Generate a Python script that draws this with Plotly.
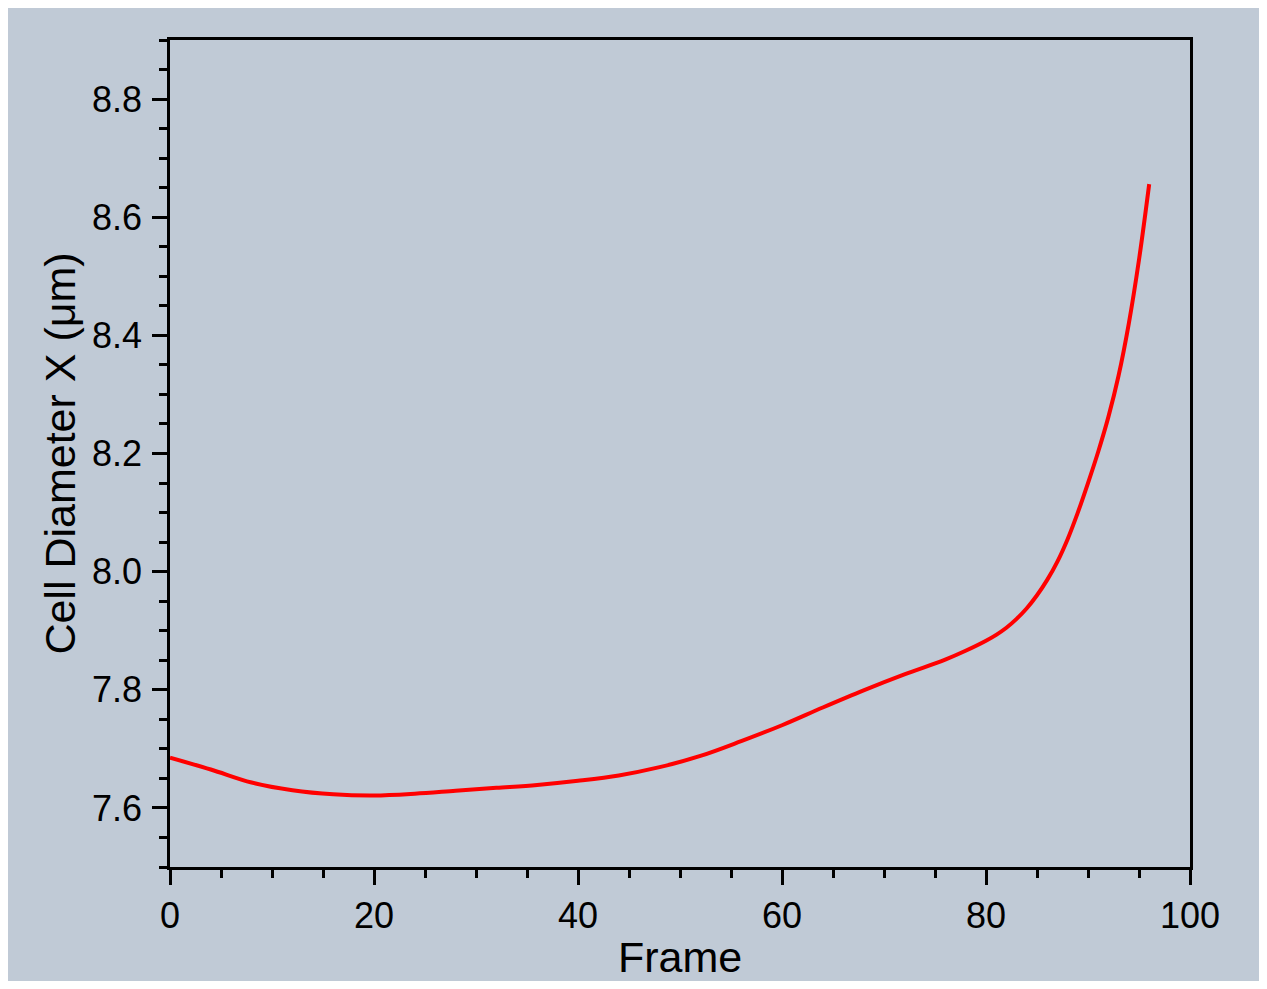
import plotly.graph_objects as go

frames = [0, 4, 8, 12, 16, 20, 24, 28, 32, 36, 40, 44, 48, 52, 56, 60, 64, 68, 72, 76, 78, 80,
          81, 82, 83, 84, 85, 86, 87, 88, 89, 90, 91, 92, 93, 94, 95, 96]
diameter = [7.685, 7.665, 7.643, 7.630, 7.623, 7.621, 7.624, 7.629, 7.634, 7.639, 7.646, 7.655,
            7.669, 7.688, 7.713, 7.740, 7.770, 7.799, 7.826, 7.851, 7.866, 7.883,
            7.893, 7.905, 7.920, 7.938, 7.960, 7.986, 8.017, 8.055, 8.100, 8.150, 8.203,
            8.262, 8.332, 8.420, 8.528, 8.656]

x_ticks = [0, 20, 40, 60, 80, 100]
y_ticks = [7.6, 7.8, 8.0, 8.2, 8.4, 8.6, 8.8]
y_tick_labels = ["7.6", "7.8", "8.0", "8.2", "8.4", "8.6", "8.8"]

bg = "#C0CAD6"
font_family = "Liberation Sans, Arial, sans-serif"

fig = go.Figure()
fig.add_trace(go.Scatter(
    x=frames, y=diameter, mode="lines",
    line=dict(color="#FF0000", width=4, shape="spline", smoothing=1.0),
    showlegend=False, hoverinfo="skip",
))

axis_common = dict(
    showline=True, linecolor="black", linewidth=2.5, mirror=True,
    ticks="outside", ticklen=15, tickwidth=2.5, tickcolor="black",
    showgrid=False, zeroline=False, automargin=False,
    tickfont=dict(family=font_family, size=36, color="black"),
)

fig.update_xaxes(
    range=[0, 100], tickvals=x_ticks,
    minor=dict(dtick=5, ticks="outside", ticklen=8, tickwidth=2.5, tickcolor="black", showgrid=False),
    title=dict(text="Frame", font=dict(family=font_family, size=43, color="black"), standoff=15),
    **axis_common,
)
fig.update_yaxes(
    range=[7.5, 8.9], tickvals=y_ticks, ticktext=y_tick_labels,
    minor=dict(dtick=0.05, tick0=7.5, ticks="outside", ticklen=8, tickwidth=2.5, tickcolor="black", showgrid=False),
    title=dict(text="Cell Diameter X (μm)", font=dict(family=font_family, size=43, color="black"), standoff=3),
    ticklabelstandoff=3,
    **axis_common,
)

fig.update_layout(
    width=1251, height=973,
    margin=dict(l=162, r=69, t=32, b=114),
    paper_bgcolor=bg, plot_bgcolor=bg,
)

fig.write_html("out.html")
